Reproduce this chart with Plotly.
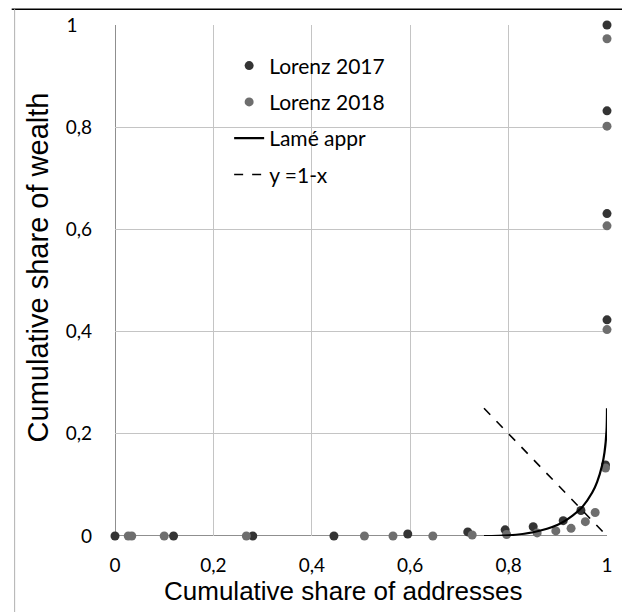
import plotly.graph_objects as go

# Lorenz 2017 points
x2017 = [0, 0.119, 0.28, 0.445, 0.595, 0.717, 0.793, 0.85, 0.911, 0.947, 0.997, 1, 1, 1, 1]
y2017 = [0, 0, 0, 0, 0.004, 0.008, 0.012, 0.018, 0.030, 0.050, 0.139, 0.423, 0.631, 0.832, 1.0]

# Lorenz 2018 points
x2018 = [0.027, 0.034, 0.1, 0.267, 0.507, 0.565, 0.646, 0.726, 0.796, 0.858, 0.896, 0.927, 0.956, 0.976, 0.997, 1, 1, 1, 1]
y2018 = [0, 0, 0, 0, 0, 0, 0, 0.002, 0.003, 0.006, 0.010, 0.015, 0.028, 0.046, 0.133, 0.404, 0.607, 0.802, 0.973]

# Lamé approximation
xlame = [0.75, 0.8, 0.85, 0.9, 0.93, 0.95, 0.97, 0.98, 0.99, 0.995, 0.999, 1.0]
ylame = [0.0, 0.0014, 0.0074, 0.022, 0.040, 0.057, 0.085, 0.106, 0.138, 0.164, 0.206, 0.25]

# y = 1 - x segment
xdiag = [0.75, 1.0]
ydiag = [0.25, 0.0]

tickvals = [0, 0.2, 0.4, 0.6, 0.8, 1]
xticktext = ["0", "0,2", "0,4", "0,6", "0,8", "1"]
yticktext = ["0", "0,2", "0,4", "0,6", "0,8", "1\u00a0\u00a0\u00a0"]

x_title = "Cumulative share of addresses"
y_title = "Cumulative share of wealth"

c2017 = "#343434"
c2018 = "#6e6e6e"

fig = go.Figure()
fig.add_trace(go.Scatter(x=x2017, y=y2017, mode="markers", name="Lorenz 2017",
                         marker=dict(color=c2017, size=9), cliponaxis=False, legendgroup="a"))
fig.add_trace(go.Scatter(x=x2018, y=y2018, mode="markers", name="Lorenz 2018",
                         marker=dict(color=c2018, size=9), cliponaxis=False, legendgroup="b"))
fig.add_trace(go.Scatter(x=xlame, y=ylame, mode="lines", name="Lamé appr",
                         line=dict(color="#000000", width=2.2, shape="spline"), cliponaxis=False, legendgroup="c"))
fig.add_trace(go.Scatter(x=xdiag, y=ydiag, mode="lines", name="y =1-x",
                         line=dict(color="#000000", width=1.6, dash="dash"), cliponaxis=False, legendgroup="d"))

axis_common = dict(
    range=[0, 1], tickvals=tickvals,
    showgrid=True, gridcolor="#c4c4c4", gridwidth=1.2,
    zeroline=False, showline=False, automargin=False,
    tickfont=dict(family="Lato, Open Sans, sans-serif", size=19, color="#000000"),
)

fig.update_xaxes(**axis_common, ticktext=xticktext, ticklabelstandoff=16)
fig.update_yaxes(**axis_common, ticktext=yticktext, ticklabelstandoff=22)

shapes = [
    # axis lines at 0
    dict(type="line", xref="x", yref="y", x0=0, x1=1, y0=0, y1=0, line=dict(color="#8f8f8f", width=2), layer="below"),
    dict(type="line", xref="x", yref="y", x0=0, x1=0, y0=0, y1=1, line=dict(color="#8f8f8f", width=2), layer="below"),
    # outer frame pieces
    dict(type="line", xref="paper", yref="paper", x0=-0.210, x1=1.06, y0=1.031, y1=1.031, line=dict(color="#000000", width=1.5)),
    dict(type="line", xref="paper", yref="paper", x0=-0.204, x1=-0.204, y0=1.031, y1=-0.2, line=dict(color="#b0b0b0", width=1)),
]

annotations = [
    dict(text=x_title, xref="paper", yref="paper", x=0.4633, y=-0.1067,
         xanchor="center", yanchor="middle", showarrow=False,
         font=dict(family="Liberation Sans, Arial, sans-serif", size=26, color="#000000")),
    dict(text=y_title, xref="paper", yref="paper", x=-0.1568, y=0.5254, textangle=-90,
         xanchor="center", yanchor="middle", showarrow=False,
         font=dict(family="Liberation Sans, Arial, sans-serif", size=29, color="#000000")),
]

fig.update_layout(
    width=630, height=612,
    margin=dict(l=107, r=31, t=17, b=84),
    paper_bgcolor="#ffffff", plot_bgcolor="#ffffff",
    shapes=shapes,
    annotations=annotations,
    showlegend=True,
    legend=dict(x=0.232, y=0.96, xanchor="left", yanchor="top",
                bgcolor="rgba(255,255,255,0)", tracegroupgap=6,
                font=dict(family="Lato, Open Sans, sans-serif", size=21, color="#000000")),
)

fig.write_html("out.html")
